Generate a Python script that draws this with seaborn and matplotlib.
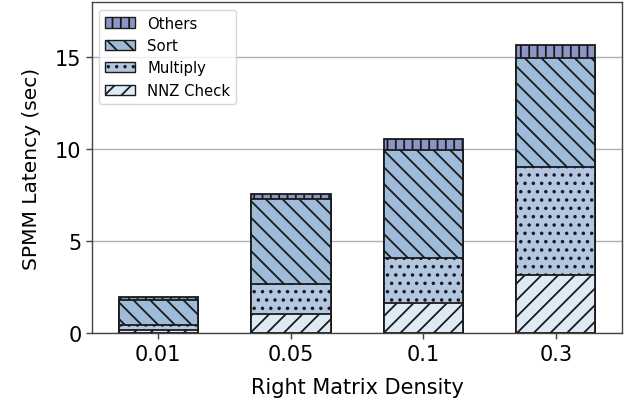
import numpy as np
import pandas as pd
import matplotlib
matplotlib.use("Agg")
import matplotlib.pyplot as plt
from matplotlib.patches import Patch
import seaborn as sns

# Latency breakdown (seconds) per right-matrix density
densities = ["0.01", "0.05", "0.1", "0.3"]
nnz_check = [0.18, 1.03, 1.63, 3.17]
multiply = [0.25, 1.63, 2.48, 5.87]
sort = [1.36, 4.66, 5.85, 5.94]
others = [0.15, 0.23, 0.62, 0.72]

components = ["NNZ Check", "Multiply", "Sort", "Others"]
values = [nnz_check, multiply, sort, others]
colors = ["#deebf7", "#b3c7e2", "#9ebcda", "#8c96c6"]
hatches = ["//", "..", "\\\\", "||"]

sns.set_style("white")
plt.rcParams["font.family"] = ["DejaVu Sans"]
plt.rcParams["hatch.linewidth"] = 1.3
plt.rcParams["hatch.color"] = "black"
for key in ["text.color", "axes.labelcolor", "xtick.labelcolor", "ytick.labelcolor"]:
    plt.rcParams[key] = "black"

df = pd.DataFrame({"density": densities})
cum = np.cumsum(np.array(values), axis=0)

fig, ax = plt.subplots(figsize=(6.26, 4.06), dpi=100)
fig.subplots_adjust(left=0.147, right=0.9936, top=0.992, bottom=0.177)

# Draw stacked bars from the tallest cumulative layer down
for i in range(len(components) - 1, -1, -1):
    df["top"] = cum[i]
    sns.barplot(data=df, x="density", y="top", ax=ax, color=colors[i],
                saturation=1, width=0.6, edgecolor="#1a1a1a", linewidth=1.3,
                hatch=hatches[i], zorder=3)

ax.set_ylim(0, 18)
ax.set_yticks([0, 5, 10, 15])
ax.yaxis.grid(True, color="#b0b0b0", linewidth=1.0, zorder=0)
ax.set_axisbelow(True)
ax.set_xlabel("Right Matrix Density", fontsize=15, labelpad=10)
ax.set_ylabel("SPMM Latency (sec)", fontsize=14.5, labelpad=10)
ax.tick_params(axis="both", labelsize=15, length=4, width=1, color="#444444",
               labelcolor="black", bottom=True, left=True)
for s in ax.spines.values():
    s.set_color("#444444")
    s.set_linewidth(1.0)

handles = [Patch(facecolor=colors[i], edgecolor="#1a1a1a", hatch=hatches[i],
                 label=components[i]) for i in range(len(components) - 1, -1, -1)]
leg = ax.legend(handles=handles, loc="upper left", fontsize=10.7, frameon=True,
                handlelength=2.0, borderaxespad=0.5)
for t in leg.get_texts():
    t.set_color("black")

fig.savefig("out.png", dpi=100)
